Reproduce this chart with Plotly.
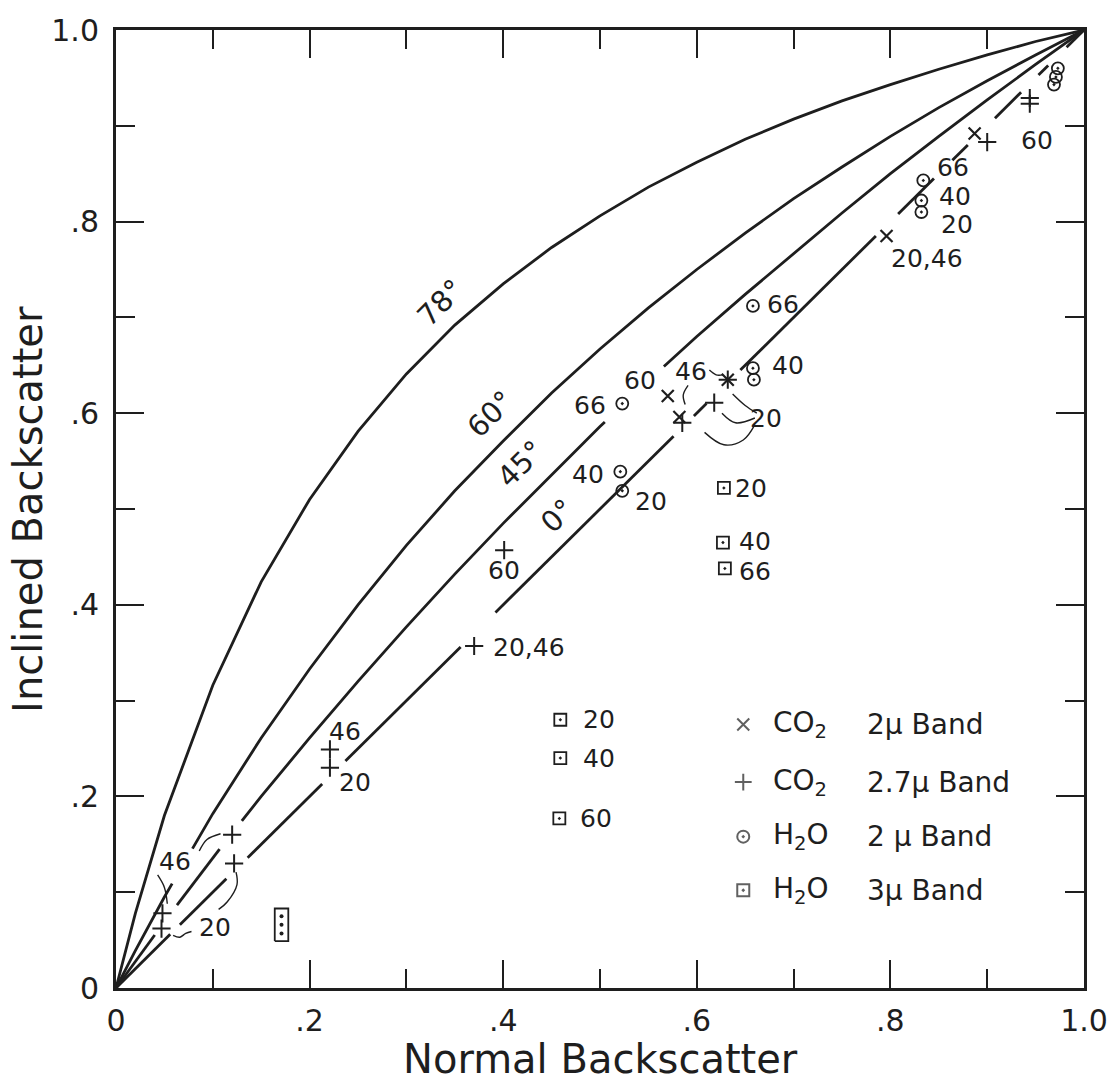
import plotly.graph_objects as go

# ---- reference curves (inclined vs normal backscatter) ----
curve_x = [0, 0.02, 0.05, 0.1, 0.15, 0.2, 0.25, 0.3, 0.35, 0.4, 0.45, 0.5,
           0.55, 0.6, 0.65, 0.7, 0.75, 0.8, 0.85, 0.9, 0.95, 1.0]
curve_78 = [0, 0.078, 0.18, 0.316, 0.424, 0.51, 0.581, 0.641, 0.692, 0.735, 0.773, 0.806,
            0.836, 0.862, 0.886, 0.907, 0.926, 0.943, 0.959, 0.974, 0.988, 1.0]
curve_60 = [0, 0.039, 0.095, 0.182, 0.261, 0.333, 0.4, 0.462, 0.519, 0.571, 0.621, 0.667,
            0.71, 0.75, 0.788, 0.824, 0.857, 0.889, 0.919, 0.947, 0.974, 1.0]
curve_45 = [0, 0.028, 0.069, 0.136, 0.2, 0.261, 0.32, 0.377, 0.432, 0.485, 0.536, 0.586,
            0.634, 0.68, 0.724, 0.767, 0.809, 0.85, 0.889, 0.927, 0.964, 1.0]
curve_0 = list(curve_x)

# visible stretches of each curve (x from, x to); the pen was lifted elsewhere
spans_78 = [(0, 1.0)]
spans_60 = [(0, 0.058), (0.079, 1.0)]
spans_45 = [(0, 0.040), (0.063, 0.107), (0.130, 0.505), (0.566, 1.0)]
spans_0 = [(0, 0.056), (0.066, 0.114), (0.136, 0.213), (0.237, 0.356), (0.392, 0.576),
           (0.597, 0.610), (0.645, 0.785), (0.808, 0.845), (0.864, 0.880),
           (0.908, 0.935), (0.953, 0.963), (0.982, 1.0)]

curve_labels = ["78°", "60°", "45°", "0°"]
curve_label_x = [0.335, 0.387, 0.418, 0.456]
curve_label_y = [0.715, 0.599, 0.547, 0.493]

# ---- measurements ----
co2_2_x = [0.582, 0.570, 0.632, 0.796, 0.887]
co2_2_y = [0.596, 0.618, 0.635, 0.785, 0.892]

co2_27_x = [0.047, 0.048, 0.120, 0.122, 0.221, 0.221, 0.370, 0.401, 0.585, 0.618, 0.632,
            0.900, 0.944, 0.944]
co2_27_y = [0.062, 0.078, 0.160, 0.130, 0.249, 0.230, 0.357, 0.457, 0.590, 0.611, 0.635,
            0.883, 0.929, 0.923]

h2o_2_x = [0.523, 0.521, 0.523, 0.658, 0.659, 0.658, 0.834, 0.832, 0.832, 0.973, 0.971, 0.969]
h2o_2_y = [0.519, 0.539, 0.610, 0.647, 0.635, 0.712, 0.843, 0.822, 0.810, 0.960, 0.951, 0.943]

h2o_3_x = [0.628, 0.627, 0.629, 0.459, 0.459, 0.458]
h2o_3_y = [0.522, 0.465, 0.438, 0.280, 0.240, 0.177]
# three coincident 3-micron readings stacked near the origin
h2o_3_stack_x = [0.171, 0.171, 0.171]
h2o_3_stack_y = [0.057, 0.066, 0.075]

# ---- point annotations (angle of incidence, degrees) ----
note_text = ["46", "20", "46", "20", "20,46", "60",
             "66", "60", "46", "40", "20", "40", "20", "66",
             "20,46", "66", "40", "20", "60",
             "20", "40", "66", "20", "40", "60"]
note_x = [0.061, 0.102, 0.237, 0.247, 0.427, 0.401,
          0.490, 0.541, 0.594, 0.694, 0.671, 0.488, 0.553, 0.689,
          0.838, 0.865, 0.867, 0.869, 0.951,
          0.656, 0.660, 0.660, 0.499, 0.499, 0.496]
note_y = [0.132, 0.063, 0.268, 0.214, 0.355, 0.436,
          0.608, 0.634, 0.644, 0.650, 0.594, 0.536, 0.508, 0.713,
          0.761, 0.856, 0.826, 0.797, 0.885,
          0.521, 0.466, 0.435, 0.280, 0.240, 0.177]

# thin leader strokes joining labels to their points
leaders = [
    ([0.086, 0.094, 0.108], [0.143, 0.155, 0.161]),
    ([0.043, 0.050, 0.053], [0.118, 0.105, 0.088]),
    ([0.059, 0.066, 0.072, 0.078], [0.055, 0.053, 0.057, 0.059]),
    ([0.124, 0.125, 0.115, 0.106], [0.121, 0.108, 0.090, 0.082]),
    ([0.591, 0.586, 0.588], [0.629, 0.619, 0.609]),
    ([0.613, 0.620, 0.627], [0.645, 0.640, 0.640]),
    ([0.637, 0.650, 0.662], [0.620, 0.608, 0.600]),
    ([0.626, 0.640, 0.660], [0.600, 0.590, 0.595]),
    ([0.608, 0.628, 0.648, 0.660], [0.580, 0.567, 0.572, 0.588]),
]

legend_symbols = ["x-thin", "cross-thin", "circle-open-dot", "square-open-dot"]
legend_species = ["CO<sub>2</sub>", "CO<sub>2</sub>", "H<sub>2</sub>O", "H<sub>2</sub>O"]
legend_bands = ["2\u03bc Band", "2.7\u03bc Band", "2 \u03bc Band", "3\u03bc Band"]
legend_y = [0.275, 0.215, 0.158, 0.102]

tick_vals = [0, 0.2, 0.4, 0.6, 0.8, 1.0]
tick_text = ["0", ".2", ".4", ".6", ".8", "1.0"]

INK = "#1e1e1e"
FONT = "DejaVu Sans"


def pieces(xs, ys, spans):
    """Sample a curve on its visible stretches, joined by None breaks."""
    px, py = [], []
    for a, b in spans:
        seg_x = [a] + [x for x in xs if a < x < b] + [b]
        seg_y = []
        for x in seg_x:
            for i in range(len(xs) - 1):
                if xs[i] <= x <= xs[i + 1]:
                    t = (x - xs[i]) / (xs[i + 1] - xs[i])
                    seg_y.append(ys[i] + t * (ys[i + 1] - ys[i]))
                    break
        px += seg_x + [None]
        py += seg_y + [None]
    return px, py


fig = go.Figure()

for ys, spans in [(curve_78, spans_78), (curve_60, spans_60),
                  (curve_45, spans_45), (curve_0, spans_0)]:
    px, py = pieces(curve_x, ys, spans)
    fig.add_trace(go.Scatter(x=px, y=py, mode="lines", line=dict(color=INK, width=2.8),
                             connectgaps=False, hoverinfo="skip", showlegend=False))

for lx, ly in leaders:
    fig.add_trace(go.Scatter(x=lx, y=ly, mode="lines",
                             line=dict(color=INK, width=1.4, shape="spline"),
                             hoverinfo="skip", showlegend=False))

marker_sets = [
    (co2_2_x, co2_2_y, "x-thin", 12, 2.2),
    (co2_27_x, co2_27_y, "cross-thin", 13, 2.0),
    (h2o_2_x, h2o_2_y, "circle-open-dot", 12, 1.8),
    (h2o_3_x, h2o_3_y, "square-open-dot", 12, 1.8),
]
for xs, ys, sym, size, lw in marker_sets:
    fig.add_trace(go.Scatter(x=xs, y=ys, mode="markers",
                             marker=dict(symbol=sym, size=size, color=INK,
                                         line=dict(color=INK, width=lw)),
                             showlegend=False))

# the stacked readings: one outline around the three, a dot for each
pad_x, pad_y = 0.007, 0.008
sx0, sx1 = min(h2o_3_stack_x) - pad_x, max(h2o_3_stack_x) + pad_x
sy0, sy1 = min(h2o_3_stack_y) - pad_y, max(h2o_3_stack_y) + pad_y
fig.add_trace(go.Scatter(x=[sx0, sx1, sx1, sx0, sx0], y=[sy0, sy0, sy1, sy1, sy0],
                         mode="lines", line=dict(color=INK, width=1.8),
                         hoverinfo="skip", showlegend=False))
fig.add_trace(go.Scatter(x=h2o_3_stack_x, y=h2o_3_stack_y, mode="markers",
                         marker=dict(symbol="circle", size=4, color=INK),
                         showlegend=False))

# key in the lower right
fig.add_trace(go.Scatter(x=[0.648] * 4, y=legend_y, mode="markers",
                         marker=dict(symbol=legend_symbols, size=[12, 12, 12, 12], color=INK,
                                     line=dict(color=INK, width=2)),
                         hoverinfo="skip", showlegend=False))

annotations = []
for t, x, y in zip(curve_labels, curve_label_x, curve_label_y):
    annotations.append(dict(x=x, y=y, xref="x", yref="y", text=t, showarrow=False,
                            textangle=-45, font=dict(family=FONT, size=29, color=INK)))
for t, x, y in zip(note_text, note_x, note_y):
    annotations.append(dict(x=x, y=y, xref="x", yref="y", text=t, showarrow=False,
                            font=dict(family=FONT, size=25, color=INK)))
for sp, band, y in zip(legend_species, legend_bands, legend_y):
    annotations.append(dict(x=0.677, y=y, xref="x", yref="y", text=sp, showarrow=False,
                            xanchor="left", yanchor="middle",
                            font=dict(family=FONT, size=28, color=INK)))
    annotations.append(dict(x=0.774, y=y, xref="x", yref="y", text=band, showarrow=False,
                            xanchor="left", yanchor="middle",
                            font=dict(family=FONT, size=28, color=INK)))

annotations.append(dict(x=0.5, y=-0.074, xref="paper", yref="paper",
                        xanchor="center", yanchor="middle",
                        text="Normal Backscatter", showarrow=False,
                        font=dict(family=FONT, size=40, color=INK)))
annotations.append(dict(x=-0.091, y=0.5, xref="paper", yref="paper",
                        xanchor="center", yanchor="middle",
                        text="Inclined Backscatter", showarrow=False, textangle=-90,
                        font=dict(family=FONT, size=40, color=INK)))

axis_common = dict(
    range=[0, 1], tickvals=tick_vals, ticktext=tick_text,
    ticks="inside", ticklen=28, tickwidth=2.4, tickcolor=INK,
    minor=dict(dtick=0.1, tick0=0, ticks="inside", ticklen=19, tickwidth=2, tickcolor=INK),
    showline=True, linewidth=3, linecolor=INK, mirror="ticks",
    showgrid=False, zeroline=False,
    tickfont=dict(family=FONT, size=30, color=INK),
)

fig.update_layout(
    width=1120, height=1087,
    margin=dict(l=116, r=30, t=18, b=99),
    paper_bgcolor="white", plot_bgcolor="white",
    xaxis=dict(**axis_common, ticklabelstandoff=4),
    yaxis=dict(**axis_common, ticklabelstandoff=8),
    annotations=annotations,
    showlegend=False,
)

fig.write_html("out.html")
